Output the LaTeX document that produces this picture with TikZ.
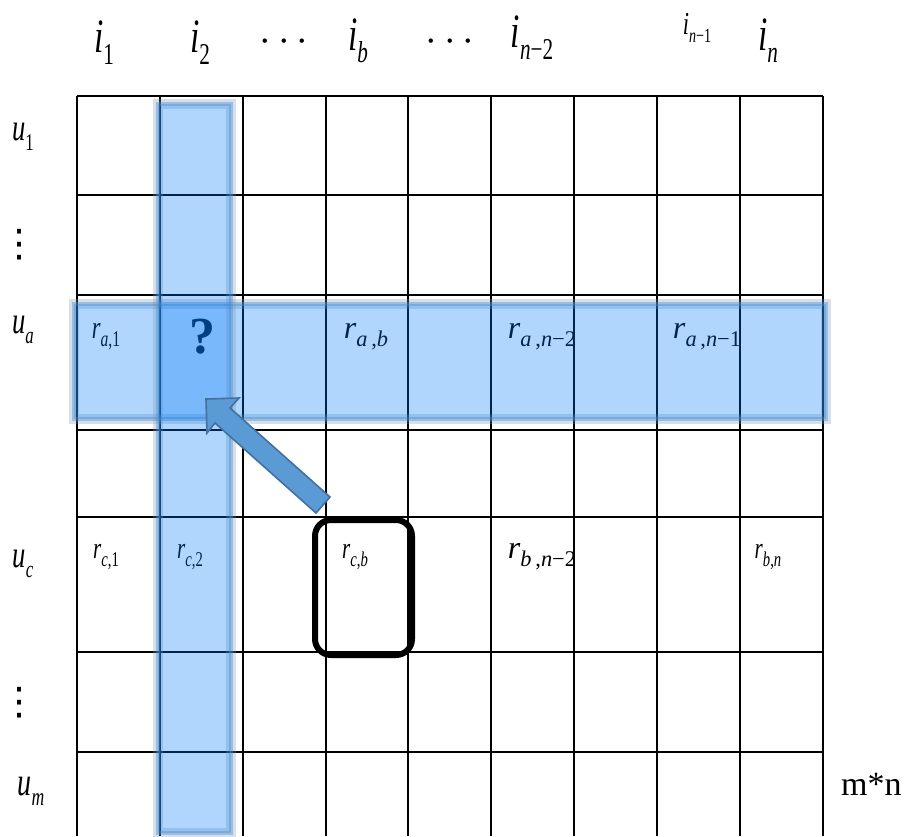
\documentclass[tikz,border=0pt]{standalone}
\usepackage{fontspec}
\setmainfont{Liberation Serif}
\newfontfamily\symfont{DejaVu Sans}
\usetikzlibrary{positioning}

\definecolor{bandfill}{RGB}{0,122,248}
\definecolor{bandline}{RGB}{70,140,205}
\definecolor{bandhalo}{RGB}{120,150,185}
\definecolor{arrowfill}{RGB}{91,155,213}
\definecolor{arrowline}{RGB}{65,113,156}

% lowered subscript and narrow (squeezed) label
\newcommand\low[2][.63]{\raisebox{-.27em}{\scalebox{#1}{#2}}}
\newcommand\sq[1]{\scalebox{.7}[1]{#1}}
\newcommand\ilbl[1]{\sq{\textit{i}\low{#1}}}
\newcommand\ulbl[1]{\sq{\textit{u}\low{#1}}}
\newcommand\rlbl[1]{\textit{r}\low[.7]{#1}}

\begin{document}
\begin{tikzpicture}[x=0.5pt,y=-0.5pt,
    gridline/.style={line width=1pt},
    band/.style={fill=bandfill, fill opacity=.31, draw=bandline, draw opacity=.4, line width=2pt},
    halo/.style={draw=bandhalo, draw opacity=.3, line width=5pt},
    toplbl/.style={anchor=base, font=\fontsize{24}{24}\selectfont},
    rowlbl/.style={anchor=base, font=\fontsize{19}{19}\selectfont},
    vdotlbl/.style={inner sep=0pt, font=\symfont\fontsize{19}{19}\selectfont},
    cell/.style={anchor=base, font=\fontsize{16}{16}\selectfont},
    selbox/.style={draw, line width=3pt, rounded corners=8pt, inner sep=0pt, minimum width=48.5pt, minimum height=67.5pt}]
    \useasboundingbox (0,0) rectangle (904,836);

    % the m*n grid
    \foreach \x in {77,160,243,326,408,491,574,657,740,823}
        \draw[gridline] (\x,96) -- (\x,836);
    \foreach \y in {96,195,295,430,517,652,752}
        \draw[gridline] (77,\y) -- (823,\y);

    % items
    \node[toplbl] (i1) at (104,52) {\ilbl{1}};
    \node[toplbl] (i2) at (200,52) {\ilbl{2}};
    \node[toplbl, font=\fontsize{22}{22}\selectfont] (idotsa) at (284,51) {$\cdots$};
    \node[toplbl] (ib) at (358,50) {\ilbl{\textit{b}}};
    \node[toplbl, font=\fontsize{22}{22}\selectfont] (idotsb) at (450,51) {$\cdots$};
    \node[toplbl] (inm2) at (532,47) {\ilbl{\textit{n}−2}};
    \node[toplbl, font=\fontsize{16}{16}\selectfont] (inm1) at (697,34) {\ilbl{\textit{n}−1}};
    \node[toplbl] (in) at (768,50) {\ilbl{\textit{n}}};

    % users
    \node[rowlbl] (u1) at (23,140) {\ulbl{1}};
    \node[vdotlbl] (uvdotsa) at (20,245) {⋮};
    \node[rowlbl] (ua) at (23,333) {\ulbl{\textit{a}}};
    \node[rowlbl] (uc) at (23,567) {\ulbl{\textit{c}}};
    \node[vdotlbl] (uvdotsb) at (20,703) {⋮};
    \node[rowlbl, font=\fontsize{20}{20}\selectfont] (um) at (31,795) {\ulbl{\textit{m}}};
    \node[anchor=base west, font=\fontsize{17}{17}\selectfont] (mn) at (834,795) {m*n};

    % known ratings
    \node[cell] (ra1) at (106,338) {\sq{\rlbl{\textit{a},1}}};
    \node[cell] (rab) at (366,338) {\rlbl{\textit{a}\,,\textit{b}}};
    \node[cell] (ranm2) at (542,338) {\rlbl{\textit{a}\,,\textit{n}−2}};
    \node[cell] (ranm1) at (707,338) {\rlbl{\textit{a}\,,\textit{n}−1}};
    \node[cell, font=\fontsize{15}{15}\selectfont] (rc1) at (106,558) {\sq{\rlbl{\textit{c},1}}};
    \node[cell, font=\fontsize{15}{15}\selectfont] (rc2) at (190,558) {\sq{\rlbl{\textit{c},2}}};
    \node[cell, font=\fontsize{15}{15}\selectfont] (rcb) at (355,558) {\sq{\rlbl{\textit{c},\textit{b}}}};
    \node[cell] (rbnm2) at (542,558) {\rlbl{\textit{b}\,,\textit{n}−2}};
    \node[cell, font=\fontsize{15}{15}\selectfont] (rbn) at (768,558) {\sq{\rlbl{\textit{b},\textit{n}}}};
    \node[cell, font=\fontsize{26}{26}\selectfont\bfseries] (q) at (202,353) {?};

    % highlighted row and column
    \draw[halo] (74,304) rectangle (826,419);
    \draw[band] (74,304) rectangle (826,419);
    \draw[halo] (158,104) rectangle (231,833);
    \draw[band] (158,104) rectangle (231,833);

    % block arrow
    \filldraw[fill=arrowfill, draw=arrowline, line width=.8pt]
        (206,399) -- (239,398) -- (230,408) -- (330,497) -- (316,513) -- (215,423) -- (207,433) -- cycle;

    \node[selbox] (cbbox) at (363.5,587.5) {};
\end{tikzpicture}
\end{document}
